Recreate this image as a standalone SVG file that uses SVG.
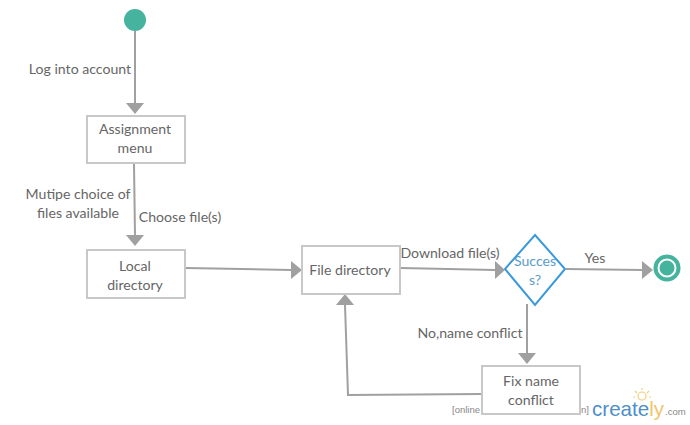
<svg xmlns="http://www.w3.org/2000/svg" width="690" height="425" viewBox="0 0 690 425">
<style>
text{font-family:Lato,"Liberation Sans",sans-serif;font-size:14.1px;fill:#666;text-anchor:middle}
.box{fill:#fff;stroke:#c8c8c8;stroke-width:2}
.c{fill:none;stroke:#a0a0a0;stroke-width:2}
.h{fill:#a0a0a0}
.wm{font-family:"Liberation Sans",sans-serif;font-size:9.5px;fill:#888;text-anchor:start}
</style>
<rect width="690" height="425" fill="#fff"/>
<g id="watermark">
<text class="wm" x="452" y="413">[online</text>
<text class="wm" x="581" y="413">n]</text>
<text x="592" y="416" textLength="72" lengthAdjust="spacingAndGlyphs" style="font-family:'Liberation Sans',sans-serif;font-size:21px;fill:#4f8fc8;text-anchor:start">create<tspan fill="#f2c46d">ly</tspan></text>
<text class="wm" x="665" y="415">.com</text>
<g fill="none" stroke="#f3cf7e" stroke-width="1.2"><circle cx="642" cy="396" r="4"/><path d="M642 388v2M635 391l2 2M649 391l-2 2M633 397h2M651 397h-2"/></g>
</g>
<g id="connectors">
<path class="c" d="M135 31V104"/><path class="h" d="M126 103h18l-9 11z"/>
<path class="c" d="M134 164L135 236"/><path class="h" d="M126 235h18l-9 11z"/>
<path class="c" d="M186 268L291 270"/><path class="h" d="M291 261v18l11-9z"/>
<path class="c" d="M401 268L495 270"/><path class="h" d="M495 261v18l10-9z"/>
<path class="c" d="M566 269L643 270"/><path class="h" d="M642 261v18l11-9z"/>
<path class="c" d="M527 304V354"/><path class="h" d="M518 353h18l-9 11z"/>
<path class="c" d="M482 394L348 395L345 305"/><path class="h" d="M336 305h18l-9-11z"/>
</g>
<g id="labels">
<text x="80" y="74">Log into account</text>
<text x="78" y="199">Mutipe choice of</text>
<text x="78" y="218">files available</text>
<text x="180" y="222">Choose file(s)</text>
<text x="450" y="258">Download file(s)</text>
<text x="595" y="263">Yes</text>
<text x="470" y="338">No,name conflict</text>
</g>
<g id="start"><circle cx="135" cy="20" r="11" fill="#45b39d"/></g>
<g id="assignment-menu"><rect class="box" x="87" y="116" width="98" height="47"/><text x="135" y="134">Assignment</text><text x="135" y="153">menu</text></g>
<g id="local-directory"><rect class="box" x="87" y="250" width="98" height="48"/><text x="135" y="271">Local</text><text x="135" y="290">directory</text></g>
<g id="file-directory"><rect class="box" x="302" y="246" width="98" height="48"/><text x="350" y="275">File directory</text></g>
<g id="success"><path d="M535 235L565 269L535 305L505 269Z" fill="#fff" stroke="#3a9ad9" stroke-width="2"/><text x="535" y="266" style="fill:#5a9bc9">Succes</text><text x="535" y="285" style="fill:#5a9bc9">s?</text></g>
<g id="fix-name-conflict"><rect class="box" x="482" y="366" width="98" height="48"/><text x="531" y="386">Fix name</text><text x="531" y="405">conflict</text></g>
<g id="end"><circle cx="667" cy="268" r="13.5" fill="#45b39d"/><circle cx="667" cy="268" r="8.5" fill="#45b39d" stroke="#fff" stroke-width="2"/></g>
</svg>
